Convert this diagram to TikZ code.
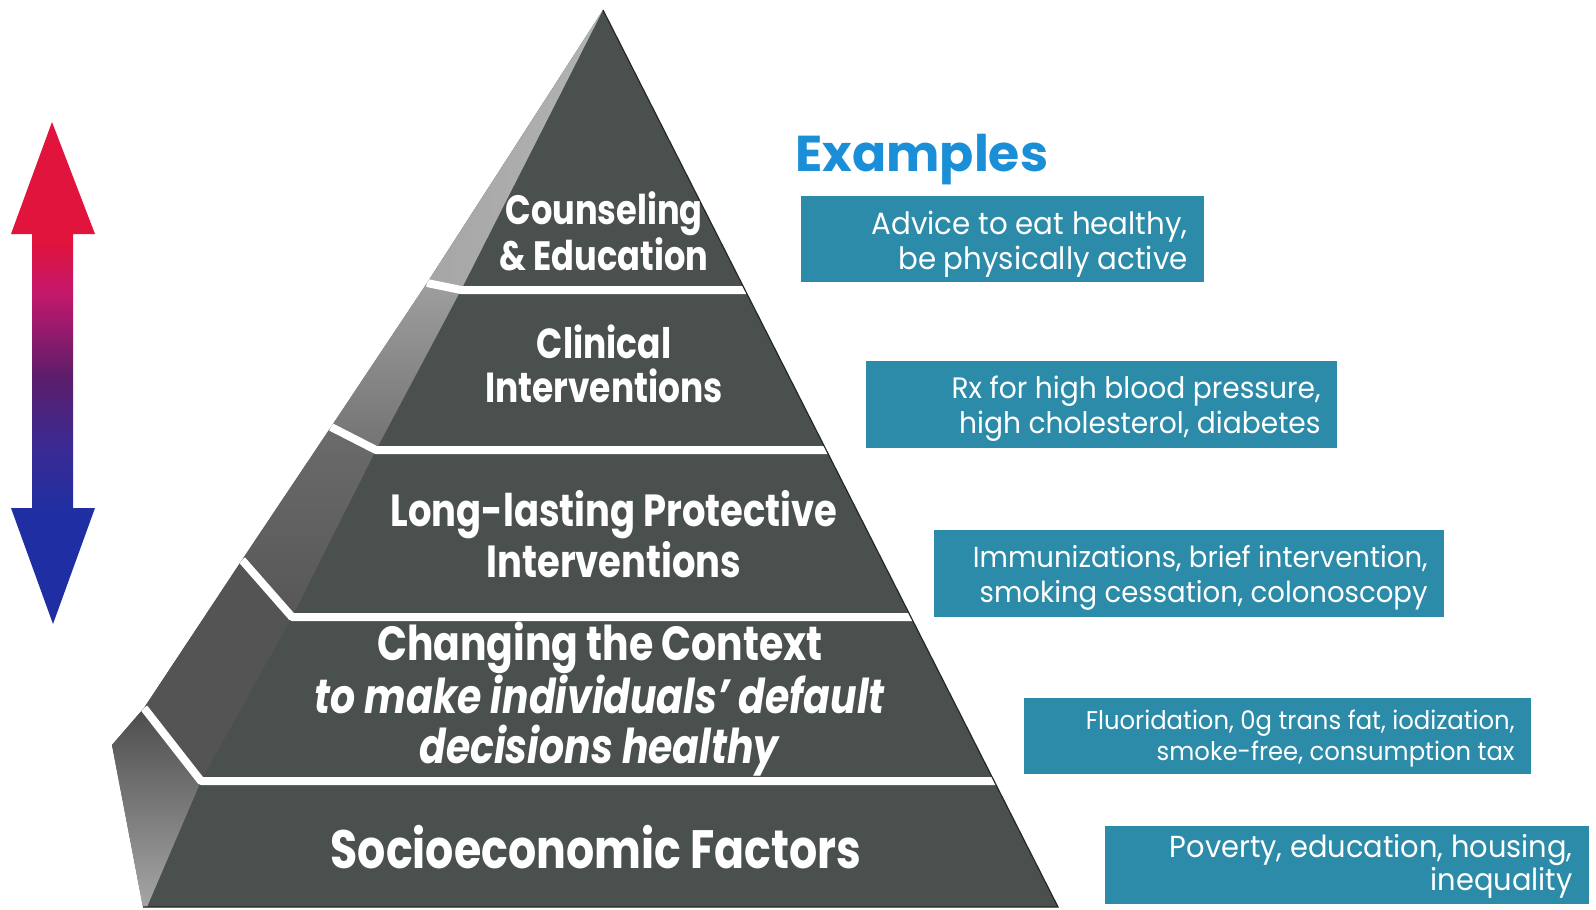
\documentclass[tikz,border=0pt]{standalone}
\usepackage{fontspec}
\setmainfont{Poppins}
\newfontfamily\tierfont[FakeStretch=0.82]{Poppins}
\newfontfamily\boxfont[FakeStretch=0.95]{Poppins}
\usetikzlibrary{positioning,calc}
\definecolor{facegray}{HTML}{4A504E}
\definecolor{boxteal}{HTML}{2B8BA8}
\definecolor{examplesblue}{HTML}{1A8FD8}
\definecolor{arrowred}{HTML}{E0143C}
\definecolor{arrowmagenta}{HTML}{C4186C}
\definecolor{arrowpurple}{HTML}{5C1D6B}
\definecolor{arrowviolet}{HTML}{3C2A92}
\definecolor{arrowblue}{HTML}{1F2FA3}
\pgfdeclareverticalshading{riskbar}{100bp}{color(0bp)=(arrowblue); color(36bp)=(arrowblue); color(43bp)=(arrowviolet); color(49.6bp)=(arrowpurple); color(58bp)=(arrowmagenta); color(63bp)=(arrowred); color(100bp)=(arrowred)}

\begin{document}
\begin{tikzpicture}[
                x=0.5pt, y=-0.5pt,
                band/.style={draw=white, line width=4pt, line join=round},
                tierlabel/.style 2 args={text=white, align=center, inner sep=0pt, font=\tierfont\bfseries\fontsize{#1}{#2}\selectfont},
                exbox/.style={fill=boxteal, anchor=north east, inner sep=0pt},
                extext/.style 2 args={text=white, align=right, anchor=east, inner sep=0pt, font=\boxfont\fontsize{#1}{#2}\selectfont}
            ]
                \useasboundingbox (0,0) rectangle (1596,910);

                % Double arrow
                \shade[shading=riskbar] (52,122) -- (95,234) -- (73,234) -- (73,508) -- (95,508) -- (53,624)
                    -- (11,508) -- (32,508) -- (32,234) -- (11,234) -- cycle;

                % Pyramid corners
                \coordinate (apex) at (603,10);
                \coordinate (l1) at (427,283); \coordinate (k1) at (461,290); \coordinate (r1) at (746,290);
                \coordinate (l2) at (331,427); \coordinate (k2) at (376,450); \coordinate (r2) at (828,450);
                \coordinate (l3) at (242,560); \coordinate (k3) at (292,617); \coordinate (r3) at (913,617);
                \coordinate (l4) at (144,708); \coordinate (k4) at (201,781); \coordinate (r4) at (996,781);
                \coordinate (foot) at (112,745);
                \coordinate (bl) at (143,907); \coordinate (bc) at (147,907); \coordinate (br) at (1058,907);

                % Faces
                \begin{scope}
                    \clip (apex) -- (br) -- (bl) -- (foot) -- (l4) -- (l3) -- (l2) -- (l1) -- cycle;
                    \fill[facegray] (apex) -- (br) -- (bl) -- (foot) -- (l4) -- (l3) -- (l2) -- (l1) -- cycle;
                    \shade[left color=black!35, right color=black!30] (apex) -- (l1) -- (k1) -- cycle;
                    \shade[top color=black!38, bottom color=black!55] (l1) -- (l2) -- (k2) -- (k1) -- cycle;
                    \shade[top color=black!58, bottom color=black!66] (l2) -- (l3) -- (k3) -- (k2) -- cycle;
                    \fill[black!67] (l3) -- (l4) -- (k4) -- (k3) -- cycle;
                    \shade[top color=black!70, bottom color=black!35] (l4) -- (foot) -- (bl) -- (bc) -- (k4) -- cycle;

                    % Bands
                    \draw[band] (l1) -- (k1) -- (r1);
                    \draw[band] (l2) -- (k2) -- (r2);
                    \draw[band] (l3) -- (k3) -- (r3);
                    \draw[band] (l4) -- (k4) -- (r4);
                \end{scope}
                \draw[black!85, line width=0.6pt] (apex) -- (br) -- (bl);

                % Tier labels
                \node[tierlabel={20.5}{20.6}] (tier1) at (604,231) {Counseling\\ \& Education};
                \node[tierlabel={21}{22.2}] (tier2) at (604,364) {Clinical\\ Interventions};
                \node[tierlabel={22.5}{23.9}] (tier3) at (614,534) {Long-lasting Protective\\ Interventions};
                \node[tierlabel={24}{25}] (tier4) at (600,699) {Changing the Context\\ \textit{to make individuals’ default}\\ \textit{decisions healthy}};
                \node[tierlabel={27}{27}] (tier5) at (596,847) {Socioeconomic Factors};

                % Examples
                \node[font=\bfseries\fontsize{25.2}{26}\selectfont, text=examplesblue, anchor=base west, inner sep=0pt] (examples) at (795,171) {Examples};

                \node[exbox, minimum width=201.5pt, minimum height=43pt] (ex1) at (1204,196) {};
                \node[extext={15.4}{17.4}] (ex1text) at ([xshift=-8pt, yshift=-2.4pt]ex1.east) {Advice to eat healthy,\\ be physically active};

                \node[exbox, minimum width=235.5pt, minimum height=43.5pt] (ex2) at (1337,361) {};
                \node[extext={14.8}{17.4}] (ex2text) at ([xshift=-8pt, yshift=-2pt]ex2.east) {Rx for high blood pressure,\\ high cholesterol, diabetes};

                \node[exbox, minimum width=255pt, minimum height=43.5pt] (ex3) at (1444,530) {};
                \node[extext={14.5}{17.8}] (ex3text) at ([xshift=-8pt, yshift=-2pt]ex3.east) {Immunizations, brief intervention,\\ smoking cessation, colonoscopy};

                \node[exbox, minimum width=253.5pt, minimum height=38pt] (ex4) at (1531,698) {};
                \node[extext={12.8}{15.3}] (ex4text) at ([xshift=-8pt, yshift=-1pt]ex4.east) {Fluoridation, 0g trans fat, iodization,\\ smoke-free, consumption tax};

                \node[exbox, minimum width=242pt, minimum height=39pt] (ex5) at (1589,826) {};
                \node[extext={15.2}{15.3}] (ex5text) at ([xshift=-8pt, yshift=-0.5pt]ex5.east) {Poverty, education, housing,\\ inequality};
            \end{tikzpicture}
\end{document}
